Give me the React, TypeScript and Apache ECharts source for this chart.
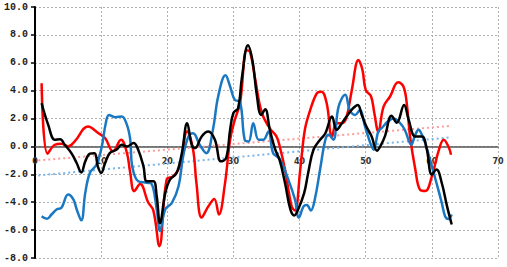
import React, { useEffect, useRef } from "react";
import * as echarts from "echarts";

const redX = [1.0, 1.9, 3, 4, 5, 6, 8, 9.6, 10.6, 11.8, 13, 13.9, 14.4, 15, 15.9, 17.1, 17.9, 18.8, 19.9, 20.9, 21.9, 23.0, 23.9, 24.4, 25.2, 26.2, 27.1, 27.8, 28.7, 29.5, 30.2, 31.0, 32.0, 32.5, 33.3, 34.3, 35.5, 36.5, 37.0, 37.8, 38.8, 39.3, 40.1, 40.8, 41.6, 42.6, 43.3, 44.1, 44.9, 45.6, 46.4, 47.1, 47.9, 48.9, 49.5, 50.0, 50.8, 51.3, 51.9, 52.7, 53.7, 54.9, 55.7, 56.2, 56.7, 57.5, 58.2, 59.0, 60.0, 61.0, 61.8, 62.5, 62.9];
const redY = [4.53, -0.52, 0.12, 0.2, 0.0, 0.36, 1.43, 0.95, 0.6, -0.35, 0.48, -0.47, -1.9, -3.2, -2.7, -4.0, -4.6, -7.15, -2.38, -2.14, -1.43, 1.07, -0.24, -2.6, -5.1, -4.3, -3.76, -4.88, -2.74, 0.48, 1.9, 3.1, 6.9, 6.8, 4.8, 2.4, 1.3, 0.72, 0.0, -1.66, -4.3, -4.6, -1.66, 1.2, 2.6, 3.8, 3.93, 3.1, 0.72, 1.67, 1.67, 2.1, 4.05, 6.2, 5.5, 4.05, 3.6, 2.4, 1.07, 2.86, 3.6, 4.6, 4.3, 3.1, 0.72, -1.66, -3.1, -3.2, -2.14, -0.35, 0.48, 0.0, -0.6];

const blueX = [1.0, 1.8, 2.5, 3.3, 4.0, 5.0, 5.8, 6.3, 7.0, 7.6, 8.3, 9.3, 10.1, 10.7, 11.2, 12.1, 13.1, 13.9, 14.4, 14.7, 15.6, 16.9, 17.6, 18.4, 18.9, 19.7, 20.7, 21.7, 22.4, 23.2, 23.9, 24.9, 25.9, 26.9, 27.7, 28.8, 29.5, 30.2, 31.0, 31.7, 32.3, 33.0, 33.8, 34.5, 35.3, 36.0, 37.0, 38.3, 39.3, 39.9, 40.6, 41.1, 41.7, 42.3, 43.1, 43.9, 44.4, 45.1, 45.9, 46.9, 47.6, 48.4, 49.1, 49.9, 50.7, 51.2, 51.9, 52.4, 53.4, 54.2, 55.2, 55.9, 56.9, 57.4, 58.0, 58.5, 59.0, 60.0, 60.7, 61.5, 62.0, 62.5, 63.0];
const blueY = [-5.0, -5.19, -4.88, -4.5, -4.4, -3.45, -3.8, -4.5, -5.3, -3.33, -1.9, -1.3, 0.0, 1.67, 2.26, 2.1, 2.15, 1.55, 0.48, -1.43, -2.5, -2.6, -2.67, -4.5, -6.07, -4.5, -4.05, -2.86, -0.7, 0.72, 0.95, 0.12, -0.48, 1.2, 3.6, 5.1, 4.3, 3.34, 3.2, 0.48, 0.36, 1.67, 0.48, 0.48, 1.07, -0.48, -0.9, -2.38, -3.8, -5.1, -4.3, -4.2, -4.6, -3.8, -1.66, 0.48, 0.83, 0.48, 2.86, 3.7, 2.6, 2.26, 2.6, 1.43, 0.24, -0.24, 1.07, 1.31, 1.8, 2.0, 1.67, 1.2, 0.12, 0.72, 1.2, 0.83, 0.24, -1.43, -2.62, -4.05, -5.0, -5.2, -4.88];

const blackX = [1.0, 2.0, 3.0, 3.8, 4.5, 5.5, 6.3, 7.0, 7.6, 8.3, 9.0, 9.5, 10.0, 10.6, 11.3, 12.3, 13.1, 13.9, 14.9, 15.6, 16.4, 16.9, 17.9, 18.4, 18.9, 19.7, 20.4, 21.4, 22.2, 23.0, 23.7, 24.2, 25.2, 26.2, 27.2, 28.1, 28.9, 29.5, 30.0, 30.7, 31.3, 32.2, 32.9, 33.5, 34.2, 34.8, 35.5, 36.3, 37.0, 37.8, 38.6, 39.2, 39.8, 40.7, 41.3, 42.1, 43.1, 43.9, 44.9, 45.6, 46.4, 47.1, 48.1, 48.8, 49.4, 50.1, 50.9, 51.7, 52.3, 52.9, 53.9, 54.7, 55.8, 56.5, 57.5, 58.5, 59.2, 60.0, 60.7, 61.5, 62.3, 63.0];
const blackY = [3.1, 1.55, 0.48, 0.52, 0.12, -0.48, -1.19, -1.86, -1.07, -0.52, -0.48, -1.43, -1.9, -1.19, -0.48, -0.24, 0.12, 0.0, 0.24, -0.24, -1.43, -2.5, -2.5, -3.57, -5.5, -3.33, -2.38, -1.9, -0.48, 1.67, 0.12, -0.12, 0.72, 1.07, 0.48, -1.07, -0.83, 1.2, 2.4, 2.74, 5.0, 7.26, 6.1, 3.81, 2.26, 2.67, 1.2, -0.2, -1.0, -2.62, -4.5, -4.95, -4.5, -3.33, -1.9, -0.24, 0.48, 0.95, 2.14, 1.19, 1.67, 2.14, 2.74, 2.98, 2.26, 1.43, 0.72, -0.3, 0.1, 0.72, 2.2, 1.7, 2.98, 1.9, 0.72, 0.72, -0.12, -2.02, -1.66, -2.62, -4.3, -5.6];

const redTrendX = [0.5, 63];
const redTrendY = [-1.0, 1.48];
const blueTrendX = [0.5, 63];
const blueTrendY = [-2.08, 0.66];

const xTicks = { min: 0, max: 70, interval: 10 };
const yTicks = { min: -8, max: 10, interval: 2 };

const zip = (xs: number[], ys: number[]) => xs.map((x, i) => [x, ys[i]]);

const GRID_TOP = 7;
const GRID_BOTTOM = 9;
const CHART_H = 267;

export default function App() {
  const ref = useRef<HTMLDivElement>(null);
  useEffect(() => {
    if (!ref.current) return;
    const chart = echarts.init(ref.current, undefined, { renderer: "svg" });
    const gridLine = { show: true, lineStyle: { color: "#b0b0b0", width: 1, type: [2, 2] as any } };
    const plotH = CHART_H - GRID_TOP - GRID_BOTTOM;
    // shift the x axis up from the grid bottom to the y = 0 position
    const zeroOffset = -plotH * (0 - yTicks.min) / (yTicks.max - yTicks.min);
    chart.setOption({
      animation: false,
      backgroundColor: "#ffffff",
      grid: { left: 35, right: 9, top: GRID_TOP, bottom: GRID_BOTTOM, containLabel: false },
      xAxis: {
        type: "value",
        min: xTicks.min,
        max: xTicks.max,
        interval: xTicks.interval,
        position: "bottom",
        offset: zeroOffset,
        axisLine: { onZero: false, lineStyle: { color: "#555", width: 1.5 } },
        axisTick: { show: false },
        axisLabel: {
          fontFamily: "DejaVu Sans",
          fontWeight: "bold",
          fontSize: 8,
          color: "#333",
          margin: 11,
        },
        splitLine: gridLine,
      },
      yAxis: {
        type: "value",
        min: yTicks.min,
        max: yTicks.max,
        interval: yTicks.interval,
        axisLine: { show: true, onZero: false, lineStyle: { color: "#000", width: 2 } },
        axisTick: { show: true, length: 4, lineStyle: { color: "#000", width: 1.5 } },
        axisLabel: {
          fontFamily: "Liberation Mono",
          fontWeight: "bold",
          fontSize: 10,
          color: "#222",
          margin: 7,
          formatter: (v: number) => v.toFixed(1),
        },
        splitLine: gridLine,
      },
      series: [
        {
          type: "line",
          data: zip(redTrendX, redTrendY),
          symbol: "none",
          lineStyle: { color: "#ff9a9a", width: 2, type: [2, 3] },
          z: 1,
        },
        {
          type: "line",
          data: zip(blueTrendX, blueTrendY),
          symbol: "none",
          lineStyle: { color: "#7ab6ea", width: 2, type: [2, 3] },
          z: 1,
        },
        {
          type: "line",
          data: zip(redX, redY),
          smooth: 0.4,
          symbol: "none",
          lineStyle: { color: "#ff0000", width: 2.5 },
          z: 2,
        },
        {
          type: "line",
          data: zip(blueX, blueY),
          smooth: 0.4,
          symbol: "none",
          lineStyle: { color: "#1a78c2", width: 2.5 },
          z: 3,
        },
        {
          type: "line",
          data: zip(blackX, blackY),
          smooth: 0.4,
          symbol: "none",
          lineStyle: { color: "#000000", width: 2.5 },
          z: 4,
        },
      ],
    });
    return () => chart.dispose();
  }, []);
  return (
    <div
      ref={ref}
      style={{ position: "fixed", left: 0, top: 0, width: 507, height: 267 }}
    />
  );
}
